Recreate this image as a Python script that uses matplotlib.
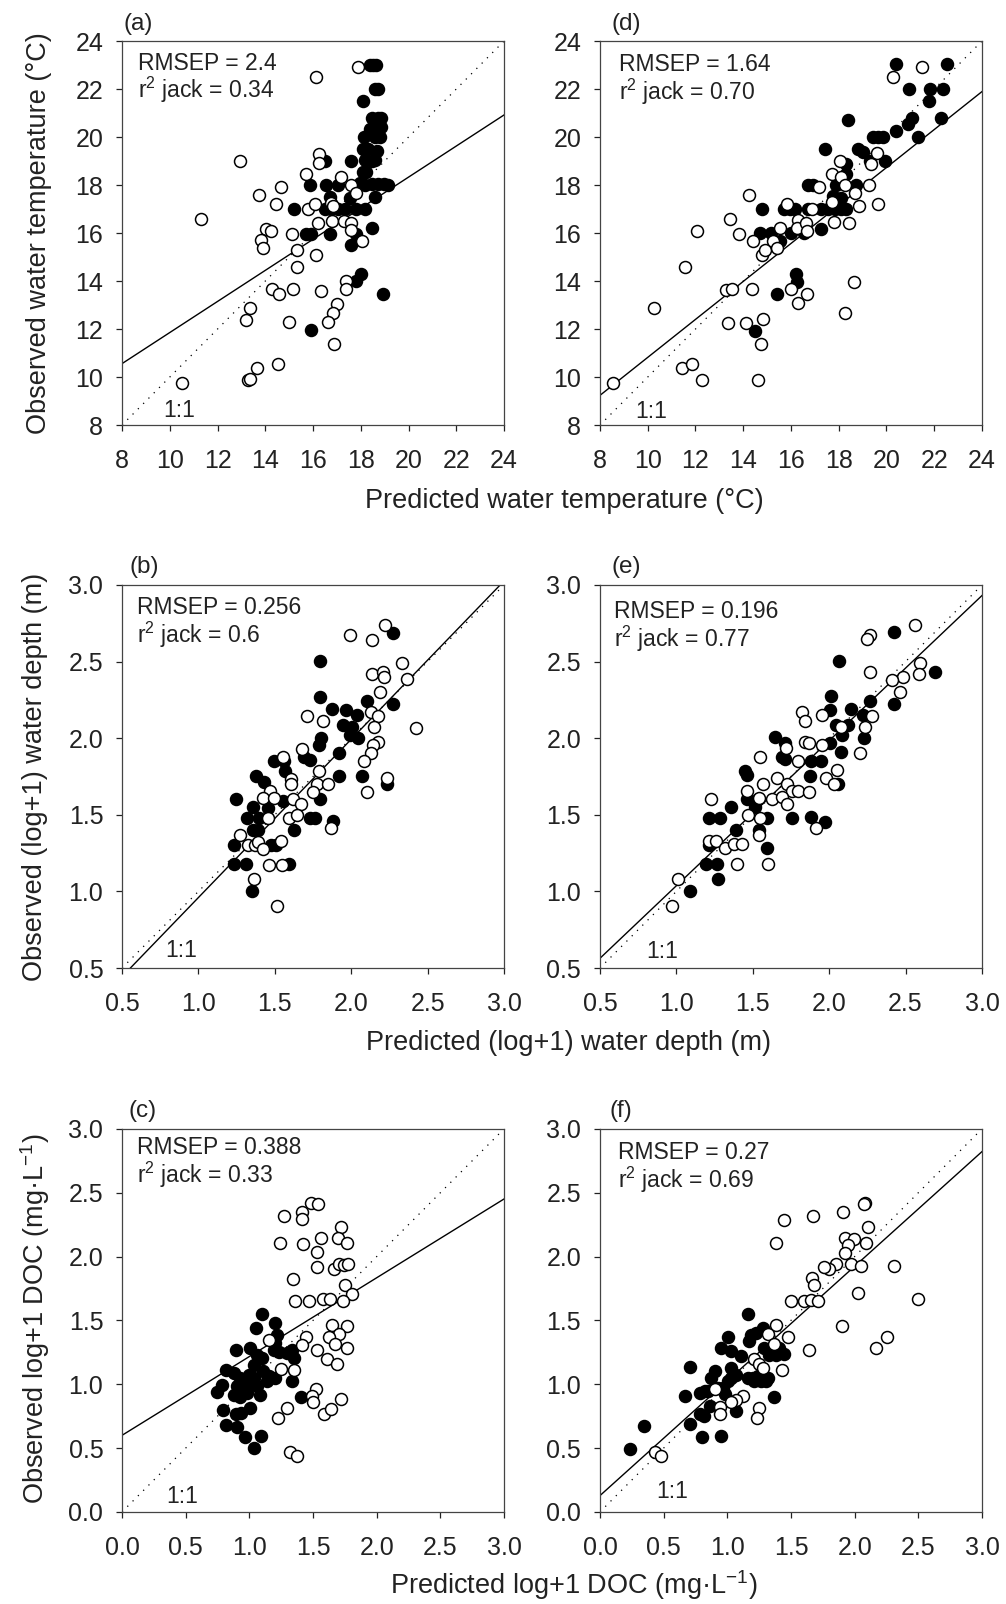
import matplotlib
matplotlib.use("Agg")
import matplotlib.pyplot as plt

plt.rcParams['font.family'] = ['Liberation Sans', 'DejaVu Sans']
plt.rcParams['mathtext.fontset'] = 'custom'
plt.rcParams['mathtext.rm'] = 'Liberation Sans'
plt.rcParams['mathtext.it'] = 'Liberation Sans:italic'

# ---- (a) water temperature, model 1
a_open_x = [17.89, 16.13, 12.95, 11.32, 16.26, 16.26, 15.69, 14.66, 13.75, 14.45, 14.03, 14.24, 13.82,
            13.89, 15.12, 15.78, 16.09, 16.20, 16.77, 16.84, 16.80, 17.16, 17.58, 17.78, 17.30, 17.58,
            17.58, 18.06, 15.32, 15.34, 16.13, 14.28, 14.59, 15.15, 16.32, 17.37, 17.38, 17.02, 16.84,
            16.63, 16.88, 14.98, 13.37, 13.20, 13.64, 13.29, 13.35, 14.55, 10.52]
a_open_y = [22.91, 22.50, 18.99, 16.58, 19.29, 18.90, 18.48, 17.90, 17.59, 17.20, 16.19, 16.09, 15.70,
            15.39, 15.98, 16.99, 17.20, 16.40, 17.27, 17.11, 16.51, 18.32, 18.01, 17.69, 16.51, 16.40,
            16.12, 15.67, 15.28, 14.58, 15.09, 13.69, 13.47, 13.68, 13.58, 14.00, 13.69, 13.05, 12.68,
            12.29, 11.38, 12.29, 12.89, 12.37, 10.38, 9.86, 9.90, 10.56, 9.77]
a_fill_x = [18.38, 18.52, 18.62, 18.59, 18.73, 18.10, 18.45, 18.73, 18.84, 18.38, 18.73, 18.84, 18.14,
            18.59, 18.80, 18.10, 18.31, 18.66, 18.17, 18.45, 18.59, 17.61, 16.49, 18.24, 18.10, 17.96,
            18.17, 18.45, 18.73, 18.98, 19.15, 15.88, 16.56, 17.05, 16.70, 17.54, 18.59, 15.20, 16.49,
            16.77, 17.05, 17.33, 17.82, 18.17, 15.71, 15.92, 16.72, 17.82, 18.45, 17.58, 18.03, 17.82,
            18.94, 15.92]
a_fill_y = [23.01, 23.01, 23.01, 22.00, 22.00, 21.52, 20.80, 20.80, 20.80, 20.34, 20.41, 20.43, 19.99,
            19.99, 19.99, 19.50, 19.50, 19.43, 19.04, 19.01, 19.04, 19.01, 18.99, 18.53, 18.53, 18.10,
            18.01, 18.04, 18.04, 18.04, 18.01, 18.01, 18.01, 18.01, 17.51, 17.48, 17.51, 16.99, 16.99,
            16.99, 16.99, 16.99, 16.99, 16.99, 15.98, 15.98, 15.98, 15.98, 16.20, 15.49, 14.28, 14.00,
            13.47, 11.98]

# ---- (d) water temperature, model 2
d_open_x = [8.53, 10.28, 12.06, 11.58, 11.43, 11.86, 12.28, 14.24, 13.43, 13.82, 14.41, 13.29, 13.54,
            14.38, 13.38, 14.10, 14.83, 14.73, 14.62, 14.80, 14.92, 15.24, 15.41, 15.52, 15.83, 15.99,
            16.29, 16.67, 16.29, 16.27, 16.64, 16.67, 16.90, 17.17, 17.72, 18.07, 18.08, 17.72, 17.79,
            18.28, 18.43, 18.69, 18.83, 19.27, 19.37, 19.62, 19.65, 18.64, 18.25, 20.28, 21.47]
d_open_y = [9.75, 12.89, 16.09, 14.58, 10.38, 10.56, 9.86, 17.59, 16.58, 15.98, 15.67, 13.61, 13.68,
            13.68, 12.26, 12.26, 12.40, 11.38, 9.86, 15.07, 15.28, 15.67, 15.39, 16.20, 17.20, 13.68,
            13.09, 13.47, 16.53, 16.20, 16.40, 16.09, 16.99, 17.90, 18.48, 18.99, 18.32, 17.30, 16.47,
            18.01, 16.40, 17.69, 17.11, 18.01, 18.87, 19.32, 17.20, 13.97, 12.68, 22.50, 22.91]
d_fill_x = [20.42, 22.52, 20.95, 21.82, 22.38, 21.79, 21.05, 20.91, 22.28, 18.39, 21.33, 20.42, 19.44,
            19.65, 19.86, 17.44, 18.81, 19.02, 19.30, 19.93, 18.32, 18.32, 16.71, 16.92, 17.90, 18.74,
            17.76, 18.11, 14.80, 15.69, 15.94, 16.15, 16.71, 17.27, 17.55, 17.83, 18.11, 18.32, 14.69,
            15.17, 15.52, 15.99, 16.53, 17.27, 16.20, 16.25, 15.43, 14.48]
d_fill_y = [23.03, 23.03, 22.01, 22.01, 22.01, 21.49, 20.78, 20.55, 20.78, 20.71, 19.99, 20.27, 19.99,
            19.99, 19.99, 19.50, 19.50, 19.36, 19.01, 18.99, 18.87, 18.48, 18.01, 18.01, 18.01, 18.01,
            17.55, 17.48, 16.99, 16.99, 16.99, 16.99, 16.99, 16.99, 16.99, 16.99, 16.99, 16.99, 15.99,
            15.99, 15.67, 15.99, 15.99, 16.19, 14.31, 13.97, 13.47, 11.94]

# ---- (b) water depth, model 1
b_open_x = [2.221, 1.991, 2.134, 2.331, 2.134, 2.211, 2.217, 2.368, 2.189, 2.423, 1.711, 1.816, 2.129,
            2.178, 2.151, 2.178, 2.145, 2.129, 2.083, 1.678, 1.553, 1.607, 1.607, 1.787, 1.778, 1.849,
            1.750, 2.232, 2.101, 1.471, 1.421, 1.493, 1.618, 1.669, 1.592, 1.647, 1.458, 1.866, 1.274,
            1.327, 1.371, 1.388, 1.421, 1.542, 1.461, 1.546, 1.366, 1.513]
b_open_y = [2.739, 2.674, 2.641, 2.489, 2.417, 2.435, 2.402, 2.385, 2.304, 2.065, 2.148, 2.113, 2.174,
            2.148, 2.076, 1.978, 1.957, 1.902, 1.848, 1.930, 1.880, 1.735, 1.700, 1.787, 1.700, 1.700,
            1.652, 1.743, 1.652, 1.657, 1.609, 1.609, 1.604, 1.570, 1.478, 1.496, 1.478, 1.413, 1.370,
            1.300, 1.300, 1.320, 1.278, 1.326, 1.174, 1.174, 1.083, 0.907]
b_fill_x = [2.276, 1.794, 1.794, 1.875, 1.969, 2.035, 2.105, 2.276, 1.947, 2.002, 1.991, 2.046, 1.805,
            1.787, 1.921, 1.691, 1.728, 1.493, 1.559, 1.564, 1.377, 1.432, 1.921, 2.068, 2.232, 1.794,
            1.246, 1.454, 1.355, 1.553, 1.318, 1.399, 1.355, 1.388, 1.625, 1.728, 1.761, 1.882, 1.235,
            1.476, 1.508, 1.235, 1.311, 1.596, 1.349]
b_fill_y = [2.689, 2.507, 2.272, 2.189, 2.185, 2.152, 2.246, 2.222, 2.087, 2.076, 2.022, 2.004, 2.004,
            1.957, 1.902, 1.880, 1.859, 1.852, 1.848, 1.783, 1.750, 1.717, 1.750, 1.750, 1.700, 1.604,
            1.604, 1.543, 1.548, 1.587, 1.478, 1.478, 1.402, 1.402, 1.402, 1.478, 1.478, 1.457, 1.300,
            1.304, 1.304, 1.178, 1.178, 1.178, 1.004]

# ---- (e) water depth, model 2
e_open_x = [2.563, 2.264, 2.248, 2.264, 2.593, 2.589, 2.480, 2.411, 2.465, 2.279, 2.235, 2.205, 1.819,
            1.840, 1.953, 2.075, 1.953, 1.840, 1.867, 1.717, 1.548, 1.797, 2.053, 1.982, 2.031, 1.656,
            1.569, 1.726, 1.758, 1.797, 1.867, 1.465, 1.543, 1.624, 1.693, 1.721, 1.229, 1.472, 1.548,
            1.541, 1.912, 1.211, 1.261, 1.320, 1.374, 1.428, 1.396, 1.598, 1.010, 0.973]
e_open_y = [2.739, 2.674, 2.646, 2.435, 2.489, 2.417, 2.402, 2.380, 2.304, 2.148, 2.076, 1.902, 2.174,
            2.113, 2.152, 2.070, 1.957, 1.978, 1.967, 1.935, 1.880, 1.848, 1.793, 1.743, 1.700, 1.743,
            1.700, 1.700, 1.657, 1.657, 1.652, 1.657, 1.609, 1.604, 1.613, 1.570, 1.604, 1.496, 1.478,
            1.370, 1.417, 1.326, 1.326, 1.283, 1.309, 1.309, 1.178, 1.178, 1.083, 0.907]
e_fill_x = [2.426, 2.691, 2.064, 2.010, 2.003, 2.144, 2.264, 2.220, 2.422, 2.047, 2.123, 2.084, 2.003,
            2.075, 2.227, 1.645, 1.710, 1.689, 1.710, 1.880, 1.949, 1.446, 1.461, 1.877, 2.057, 1.465,
            1.515, 1.537, 1.359, 1.211, 1.287, 1.591, 1.760, 1.884, 1.971, 1.392, 1.541, 1.211, 1.591,
            1.194, 1.266, 1.272, 1.088]
e_fill_y = [2.691, 2.435, 2.507, 2.278, 2.185, 2.191, 2.243, 2.152, 2.222, 2.083, 2.083, 2.022, 1.967,
            1.909, 2.004, 2.007, 1.967, 1.880, 1.865, 1.848, 1.848, 1.783, 1.761, 1.750, 1.700, 1.604,
            1.548, 1.604, 1.548, 1.478, 1.478, 1.478, 1.478, 1.483, 1.452, 1.402, 1.402, 1.300, 1.283,
            1.178, 1.178, 1.083, 1.000]

# ---- (c) DOC, model 1
c_open_x = [1.488, 1.538, 1.415, 1.415, 1.271, 1.721, 1.239, 1.423, 1.564, 1.695, 1.763, 1.533, 1.533,
            1.664, 1.703, 1.747, 1.774, 1.341, 1.755, 1.810, 1.577, 1.637, 1.734, 1.362, 1.467, 1.651,
            1.768, 1.703, 1.624, 1.671, 1.763, 1.441, 1.415, 1.533, 1.606, 1.685, 1.153, 1.252, 1.349,
            1.520, 1.493, 1.501, 1.716, 1.292, 1.223, 1.585, 1.643, 1.323, 1.375]
c_open_y = [2.418, 2.410, 2.353, 2.293, 2.319, 2.230, 2.110, 2.097, 2.144, 2.144, 2.110, 2.032, 1.917,
            1.904, 1.941, 1.936, 1.941, 1.823, 1.774, 1.709, 1.669, 1.667, 1.654, 1.649, 1.649, 1.461,
            1.458, 1.393, 1.369, 1.315, 1.283, 1.367, 1.309, 1.265, 1.197, 1.158, 1.343, 1.122, 1.111,
            0.965, 0.905, 0.861, 0.884, 0.814, 0.735, 0.767, 0.809, 0.467, 0.435]
c_fill_x = [1.100, 1.200, 1.053, 1.218, 1.200, 1.192, 1.231, 1.336, 1.297, 1.349, 0.899, 1.009, 1.061,
            1.100, 1.040, 0.817, 0.878, 0.930, 0.956, 0.996, 1.035, 1.108, 1.153, 1.205, 0.904, 0.982,
            1.061, 1.140, 0.786, 0.747, 0.878, 0.925, 0.982, 1.082, 1.336, 1.407, 0.794, 0.899, 0.938,
            1.009, 0.820, 0.904, 0.969, 1.092, 1.035]
c_fill_y = [1.552, 1.479, 1.440, 1.388, 1.323, 1.265, 1.252, 1.270, 1.244, 1.205, 1.270, 1.283, 1.231,
            1.205, 1.148, 1.114, 1.088, 1.049, 1.022, 1.075, 1.049, 1.101, 1.062, 1.049, 0.983, 0.975,
            0.983, 1.022, 0.991, 0.936, 0.918, 0.897, 0.931, 0.913, 1.028, 0.897, 0.801, 0.767, 0.775,
            0.814, 0.683, 0.662, 0.584, 0.592, 0.501]

# ---- (f) DOC, model 2
f_open_x = [2.082, 2.075, 1.912, 1.670, 1.448, 2.105, 1.383, 2.087, 1.925, 1.996, 1.951, 1.925, 1.970,
            2.048, 1.852, 1.795, 1.761, 2.309, 1.662, 1.683, 1.500, 1.599, 1.657, 1.709, 2.027, 2.499,
            1.904, 2.252, 2.171, 1.644, 1.383, 1.474, 1.318, 1.370, 1.430, 1.208, 1.252, 1.278, 0.900,
            1.122, 1.070, 1.031, 1.247, 1.234, 0.939, 0.939, 0.430, 0.477]
f_open_y = [2.418, 2.410, 2.348, 2.319, 2.288, 2.230, 2.110, 2.110, 2.144, 2.139, 2.092, 2.027, 1.943,
            1.928, 1.941, 1.904, 1.917, 1.923, 1.831, 1.774, 1.649, 1.654, 1.662, 1.654, 1.714, 1.669,
            1.458, 1.369, 1.283, 1.265, 1.466, 1.369, 1.393, 1.315, 1.109, 1.197, 1.158, 1.127, 0.965,
            0.905, 0.879, 0.861, 0.814, 0.735, 0.819, 0.767, 0.467, 0.435]
f_fill_x = [1.166, 1.278, 1.226, 1.004, 0.952, 1.031, 1.109, 1.169, 1.291, 1.357, 1.331, 1.409, 1.448,
            0.900, 0.874, 1.031, 1.070, 1.004, 1.161, 1.213, 1.265, 1.304, 0.704, 0.783, 0.848, 0.665,
            0.965, 0.978, 1.370, 0.861, 0.783, 0.817, 1.070, 0.704, 0.347, 0.235, 0.801, 0.952,
            1.200, 1.239, 1.318, 0.926, 1.031, 0.822, 1.383, 1.187, 1.409]
f_fill_y = [1.549, 1.440, 1.401, 1.367, 1.283, 1.257, 1.218, 1.336, 1.283, 1.252, 1.231, 1.244, 1.236,
            1.101, 1.049, 1.127, 1.075, 1.022, 1.049, 1.022, 1.022, 1.028, 1.135, 0.931, 0.944, 0.905,
            0.970, 0.923, 0.897, 0.827, 0.767, 0.749, 0.793, 0.689, 0.670, 0.493, 0.584, 0.592,
            1.049, 1.062, 1.049, 0.970, 1.049, 0.944, 1.231, 1.388, 1.283]

# regression lines (intercept, slope) and stats text
fits = {'a': (5.38, 0.6475), 'd': (2.91, 0.791), 'b': (-0.073, 1.033),
        'e': (0.09, 0.947), 'c': (0.60, 0.617), 'f': (0.128, 0.898)}
rmsep = {'a': '2.4', 'd': '1.64', 'b': '0.256', 'e': '0.196', 'c': '0.388', 'f': '0.27'}
r2jack = {'a': '0.34', 'd': '0.70', 'b': '0.6', 'e': '0.77', 'c': '0.33', 'f': '0.69'}

temp_ticks = [8, 10, 12, 14, 16, 18, 20, 22, 24]
depth_ticks = [0.5, 1.0, 1.5, 2.0, 2.5, 3.0]
doc_ticks = [0.0, 0.5, 1.0, 1.5, 2.0, 2.5, 3.0]

fig = plt.figure(figsize=(10.06, 16.04), dpi=100)

L1, L2, W = 0.1213, 0.5964, 0.3797
axpos = {'a': [L1, 0.7350, W, 0.2394], 'd': [L2, 0.7350, W, 0.2394],
         'b': [L1, 0.3965, W, 0.2388], 'e': [L2, 0.3965, W, 0.2388],
         'c': [L1, 0.0574, W, 0.2388], 'f': [L2, 0.0574, W, 0.2388]}
# text positions in axes fraction: stats (x, y1, y2), 1:1 label (x, y), panel letter x
stat_pos = {'a': (0.043, 0.925, 0.851), 'd': (0.051, 0.923, 0.846), 'b': (0.039, 0.924, 0.848),
            'e': (0.037, 0.915, 0.839), 'c': (0.039, 0.934, 0.858), 'f': (0.046, 0.921, 0.845)}
one_pos = {'a': (0.108, 0.022), 'd': (0.092, 0.018), 'b': (0.113, 0.029),
           'e': (0.122, 0.026), 'c': (0.117, 0.023), 'f': (0.148, 0.036)}
letter_x = {'a': 0.005, 'd': 0.03, 'b': 0.02, 'e': 0.03, 'c': 0.018, 'f': 0.026}

panels = {
    'a': (a_open_x, a_open_y, a_fill_x, a_fill_y, temp_ticks, '%d'),
    'd': (d_open_x, d_open_y, d_fill_x, d_fill_y, temp_ticks, '%d'),
    'b': (b_open_x, b_open_y, b_fill_x, b_fill_y, depth_ticks, '%.1f'),
    'e': (e_open_x, e_open_y, e_fill_x, e_fill_y, depth_ticks, '%.1f'),
    'c': (c_open_x, c_open_y, c_fill_x, c_fill_y, doc_ticks, '%.1f'),
    'f': (f_open_x, f_open_y, f_fill_x, f_fill_y, doc_ticks, '%.1f'),
}

for key, (ox, oy, fx, fy, ticks, fmt) in panels.items():
    ax = fig.add_axes(axpos[key])
    lo, hi = ticks[0], ticks[-1]
    ax.set_xlim(lo, hi)
    ax.set_ylim(lo, hi)
    # 1:1 line and fitted line
    ax.plot([lo, hi], [lo, hi], color='black', lw=0.9, linestyle=(0, (1, 5)))
    b0, b1 = fits[key]
    ax.plot([lo, hi], [b0 + b1 * lo, b0 + b1 * hi], color='black', lw=1.0)
    ax.plot(fx, fy, 'o', ms=8.6, mfc='black', mec='black', mew=1.1, linestyle='none')
    ax.plot(ox, oy, 'o', ms=8.6, mfc='white', mec='black', mew=1.1, linestyle='none')

    ax.set_xticks(ticks)
    ax.set_yticks(ticks)
    ax.set_xticklabels([fmt % t for t in ticks])
    ax.set_yticklabels([fmt % t for t in ticks])
    ax.tick_params(direction='out', length=4.5, width=0.9, labelsize=18, colors='#222222')
    ax.tick_params(axis='x', pad=13)
    ax.tick_params(axis='y', pad=9)
    for sp in ax.spines.values():
        sp.set_linewidth(0.9)
        sp.set_color('#444444')

    sx, sy1, sy2 = stat_pos[key]
    ax.text(sx, sy1, 'RMSEP = ' + rmsep[key], transform=ax.transAxes, fontsize=16.5,
            va='baseline', color='#222222')
    ax.text(sx, sy2, 'r$^{2}$ jack = ' + r2jack[key], transform=ax.transAxes, fontsize=16.5,
            va='baseline', color='#222222')
    ax.text(one_pos[key][0], one_pos[key][1], '1:1', transform=ax.transAxes, fontsize=16.5,
            va='baseline', color='#222222')
    ax.text(letter_x[key], 1.03, '(%s)' % key, transform=ax.transAxes, fontsize=17.5,
            va='baseline', color='#222222')

# shared axis titles
fig.text(564 / 1006, 1 - 508 / 1604, 'Predicted water temperature (\u00b0C)', ha='center',
         va='baseline', fontsize=19.5, color='#222222')
fig.text(568 / 1006, 1 - 1050 / 1604, 'Predicted (log+1) water depth (m)', ha='center',
         va='baseline', fontsize=19.5, color='#222222')
fig.text(574 / 1006, 1 - 1594 / 1604, 'Predicted log+1 DOC (mg\u00b7L$^{-1}$)', ha='center',
         va='baseline', fontsize=19.5, color='#222222')

fig.text(0.039, 0.8547, 'Observed water temperature (\u00b0C)', rotation=90, ha='center',
         va='center', fontsize=19.5, color='#222222')
fig.text(0.035, 0.5159, 'Observed (log+1) water depth (m)', rotation=90, ha='center',
         va='center', fontsize=19.5, color='#222222')
fig.text(0.035, 0.1780, 'Observed log+1 DOC (mg\u00b7L$^{-1}$)', rotation=90, ha='center',
         va='center', fontsize=19.5, color='#222222')

fig.savefig('out.png', dpi=100)
